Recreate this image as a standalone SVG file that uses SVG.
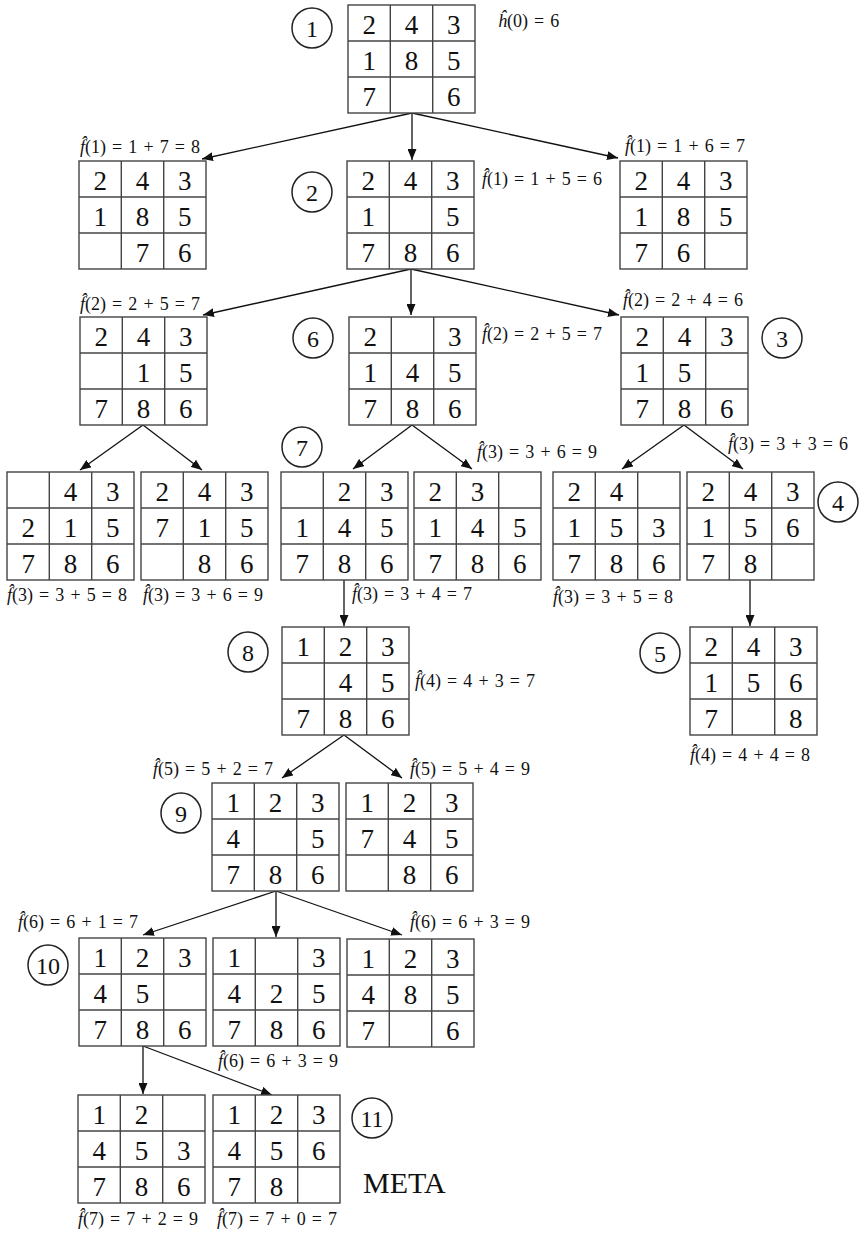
<svg xmlns="http://www.w3.org/2000/svg" xmlns:xlink="http://www.w3.org/1999/xlink" width="860" height="1234" viewBox="0 0 860 1234">
<style>
.d{font-family:"Liberation Serif","Times New Roman",serif;font-size:27px;fill:#111;text-anchor:middle}
.lb{font-family:"Liberation Serif","Times New Roman",serif;font-size:18px;fill:#111;word-spacing:1.6px}
.it{font-style:italic}
.cn{font-family:"Liberation Serif","Times New Roman",serif;font-size:24px;fill:#111;text-anchor:middle}
.circ{fill:none;stroke:#222;stroke-width:1.5}
.cell{fill:#fff;stroke:#444;stroke-width:1.4}
.ln{stroke:#444;stroke-width:1.4}
.ar{stroke:#111;stroke-width:1.3;fill:none;marker-end:url(#ah)}
.meta{font-family:"Liberation Serif","Times New Roman",serif;font-size:30px;fill:#111}
</style>
<defs>
<marker id="ah" markerUnits="userSpaceOnUse" markerWidth="12" markerHeight="9" refX="11" refY="4.5" orient="auto">
<path d="M0,0 L11,4.5 L0,9 z" fill="#111"/>
</marker>
<g id="grid">
<rect class="cell" x="0" y="0" width="127" height="108"/>
<line class="ln" x1="42.3" y1="0" x2="42.3" y2="108"/>
<line class="ln" x1="84.7" y1="0" x2="84.7" y2="108"/>
<line class="ln" x1="0" y1="36" x2="127" y2="36"/>
<line class="ln" x1="0" y1="72" x2="127" y2="72"/>
</g>
</defs>
<rect width="860" height="1234" fill="#fff"/>

<g id="connectors">
<line class="ar" x1="412" y1="113" x2="202" y2="159"/>
<line class="ar" x1="412" y1="113" x2="412" y2="160"/>
<line class="ar" x1="412" y1="113" x2="618" y2="158"/>
<line class="ar" x1="411" y1="269" x2="203" y2="315"/>
<line class="ar" x1="411" y1="269" x2="411" y2="315"/>
<line class="ar" x1="411" y1="269" x2="619" y2="315"/>
<line class="ar" x1="143" y1="425" x2="80" y2="470"/>
<line class="ar" x1="143" y1="425" x2="202" y2="470"/>
<line class="ar" x1="412" y1="425" x2="353" y2="469"/>
<line class="ar" x1="412" y1="425" x2="472" y2="469"/>
<line class="ar" x1="684" y1="425" x2="622" y2="469"/>
<line class="ar" x1="684" y1="425" x2="743" y2="469"/>
<line class="ar" x1="344" y1="580" x2="344" y2="626"/>
<line class="ar" x1="750" y1="580" x2="750" y2="626"/>
<line class="ar" x1="344" y1="735" x2="282" y2="778"/>
<line class="ar" x1="344" y1="735" x2="402" y2="778"/>
<line class="ar" x1="276" y1="891" x2="143" y2="935"/>
<line class="ar" x1="276" y1="891" x2="276" y2="937"/>
<line class="ar" x1="276" y1="891" x2="402" y2="935"/>
<line class="ar" x1="143" y1="1046" x2="143" y2="1094"/>
<line class="ar" x1="143" y1="1046" x2="272" y2="1095"/>
</g>

<g id="n1" transform="translate(348,5)"><use xlink:href="#grid"/>
<text class="d" x="21.2" y="28.5">2</text><text class="d" x="63.5" y="28.5">4</text><text class="d" x="105.8" y="28.5">3</text>
<text class="d" x="21.2" y="64.5">1</text><text class="d" x="63.5" y="64.5">8</text><text class="d" x="105.8" y="64.5">5</text>
<text class="d" x="21.2" y="100.5">7</text><text class="d" x="105.8" y="100.5">6</text></g>

<g id="nL1" transform="translate(79,161)"><use xlink:href="#grid"/>
<text class="d" x="21.2" y="28.5">2</text><text class="d" x="63.5" y="28.5">4</text><text class="d" x="105.8" y="28.5">3</text>
<text class="d" x="21.2" y="64.5">1</text><text class="d" x="63.5" y="64.5">8</text><text class="d" x="105.8" y="64.5">5</text>
<text class="d" x="63.5" y="100.5">7</text><text class="d" x="105.8" y="100.5">6</text></g>

<g id="n2" transform="translate(347,161)"><use xlink:href="#grid"/>
<text class="d" x="21.2" y="28.5">2</text><text class="d" x="63.5" y="28.5">4</text><text class="d" x="105.8" y="28.5">3</text>
<text class="d" x="21.2" y="64.5">1</text><text class="d" x="105.8" y="64.5">5</text>
<text class="d" x="21.2" y="100.5">7</text><text class="d" x="63.5" y="100.5">8</text><text class="d" x="105.8" y="100.5">6</text></g>

<g id="nR1" transform="translate(620,161)"><use xlink:href="#grid"/>
<text class="d" x="21.2" y="28.5">2</text><text class="d" x="63.5" y="28.5">4</text><text class="d" x="105.8" y="28.5">3</text>
<text class="d" x="21.2" y="64.5">1</text><text class="d" x="63.5" y="64.5">8</text><text class="d" x="105.8" y="64.5">5</text>
<text class="d" x="21.2" y="100.5">7</text><text class="d" x="63.5" y="100.5">6</text></g>

<g id="nL2" transform="translate(80,317)"><use xlink:href="#grid"/>
<text class="d" x="21.2" y="28.5">2</text><text class="d" x="63.5" y="28.5">4</text><text class="d" x="105.8" y="28.5">3</text>
<text class="d" x="63.5" y="64.5">1</text><text class="d" x="105.8" y="64.5">5</text>
<text class="d" x="21.2" y="100.5">7</text><text class="d" x="63.5" y="100.5">8</text><text class="d" x="105.8" y="100.5">6</text></g>

<g id="n6" transform="translate(349,317)"><use xlink:href="#grid"/>
<text class="d" x="21.2" y="28.5">2</text><text class="d" x="105.8" y="28.5">3</text>
<text class="d" x="21.2" y="64.5">1</text><text class="d" x="63.5" y="64.5">4</text><text class="d" x="105.8" y="64.5">5</text>
<text class="d" x="21.2" y="100.5">7</text><text class="d" x="63.5" y="100.5">8</text><text class="d" x="105.8" y="100.5">6</text></g>

<g id="n3" transform="translate(621,317)"><use xlink:href="#grid"/>
<text class="d" x="21.2" y="28.5">2</text><text class="d" x="63.5" y="28.5">4</text><text class="d" x="105.8" y="28.5">3</text>
<text class="d" x="21.2" y="64.5">1</text><text class="d" x="63.5" y="64.5">5</text>
<text class="d" x="21.2" y="100.5">7</text><text class="d" x="63.5" y="100.5">8</text><text class="d" x="105.8" y="100.5">6</text></g>

<g id="nA" transform="translate(7,472)"><use xlink:href="#grid"/>
<text class="d" x="63.5" y="28.5">4</text><text class="d" x="105.8" y="28.5">3</text>
<text class="d" x="21.2" y="64.5">2</text><text class="d" x="63.5" y="64.5">1</text><text class="d" x="105.8" y="64.5">5</text>
<text class="d" x="21.2" y="100.5">7</text><text class="d" x="63.5" y="100.5">8</text><text class="d" x="105.8" y="100.5">6</text></g>

<g id="nB" transform="translate(141,472)"><use xlink:href="#grid"/>
<text class="d" x="21.2" y="28.5">2</text><text class="d" x="63.5" y="28.5">4</text><text class="d" x="105.8" y="28.5">3</text>
<text class="d" x="21.2" y="64.5">7</text><text class="d" x="63.5" y="64.5">1</text><text class="d" x="105.8" y="64.5">5</text>
<text class="d" x="63.5" y="100.5">8</text><text class="d" x="105.8" y="100.5">6</text></g>

<g id="n7" transform="translate(281,472)"><use xlink:href="#grid"/>
<text class="d" x="63.5" y="28.5">2</text><text class="d" x="105.8" y="28.5">3</text>
<text class="d" x="21.2" y="64.5">1</text><text class="d" x="63.5" y="64.5">4</text><text class="d" x="105.8" y="64.5">5</text>
<text class="d" x="21.2" y="100.5">7</text><text class="d" x="63.5" y="100.5">8</text><text class="d" x="105.8" y="100.5">6</text></g>

<g id="nC" transform="translate(414,472)"><use xlink:href="#grid"/>
<text class="d" x="21.2" y="28.5">2</text><text class="d" x="63.5" y="28.5">3</text>
<text class="d" x="21.2" y="64.5">1</text><text class="d" x="63.5" y="64.5">4</text><text class="d" x="105.8" y="64.5">5</text>
<text class="d" x="21.2" y="100.5">7</text><text class="d" x="63.5" y="100.5">8</text><text class="d" x="105.8" y="100.5">6</text></g>

<g id="nD" transform="translate(553,472)"><use xlink:href="#grid"/>
<text class="d" x="21.2" y="28.5">2</text><text class="d" x="63.5" y="28.5">4</text>
<text class="d" x="21.2" y="64.5">1</text><text class="d" x="63.5" y="64.5">5</text><text class="d" x="105.8" y="64.5">3</text>
<text class="d" x="21.2" y="100.5">7</text><text class="d" x="63.5" y="100.5">8</text><text class="d" x="105.8" y="100.5">6</text></g>

<g id="n4" transform="translate(687,472)"><use xlink:href="#grid"/>
<text class="d" x="21.2" y="28.5">2</text><text class="d" x="63.5" y="28.5">4</text><text class="d" x="105.8" y="28.5">3</text>
<text class="d" x="21.2" y="64.5">1</text><text class="d" x="63.5" y="64.5">5</text><text class="d" x="105.8" y="64.5">6</text>
<text class="d" x="21.2" y="100.5">7</text><text class="d" x="63.5" y="100.5">8</text></g>

<g id="n8" transform="translate(282,627)"><use xlink:href="#grid"/>
<text class="d" x="21.2" y="28.5">1</text><text class="d" x="63.5" y="28.5">2</text><text class="d" x="105.8" y="28.5">3</text>
<text class="d" x="63.5" y="64.5">4</text><text class="d" x="105.8" y="64.5">5</text>
<text class="d" x="21.2" y="100.5">7</text><text class="d" x="63.5" y="100.5">8</text><text class="d" x="105.8" y="100.5">6</text></g>

<g id="n5" transform="translate(690,627)"><use xlink:href="#grid"/>
<text class="d" x="21.2" y="28.5">2</text><text class="d" x="63.5" y="28.5">4</text><text class="d" x="105.8" y="28.5">3</text>
<text class="d" x="21.2" y="64.5">1</text><text class="d" x="63.5" y="64.5">5</text><text class="d" x="105.8" y="64.5">6</text>
<text class="d" x="21.2" y="100.5">7</text><text class="d" x="105.8" y="100.5">8</text></g>

<g id="n9" transform="translate(212,783)"><use xlink:href="#grid"/>
<text class="d" x="21.2" y="28.5">1</text><text class="d" x="63.5" y="28.5">2</text><text class="d" x="105.8" y="28.5">3</text>
<text class="d" x="21.2" y="64.5">4</text><text class="d" x="105.8" y="64.5">5</text>
<text class="d" x="21.2" y="100.5">7</text><text class="d" x="63.5" y="100.5">8</text><text class="d" x="105.8" y="100.5">6</text></g>

<g id="n9b" transform="translate(346,783)"><use xlink:href="#grid"/>
<text class="d" x="21.2" y="28.5">1</text><text class="d" x="63.5" y="28.5">2</text><text class="d" x="105.8" y="28.5">3</text>
<text class="d" x="21.2" y="64.5">7</text><text class="d" x="63.5" y="64.5">4</text><text class="d" x="105.8" y="64.5">5</text>
<text class="d" x="63.5" y="100.5">8</text><text class="d" x="105.8" y="100.5">6</text></g>

<g id="n10" transform="translate(79,938)"><use xlink:href="#grid"/>
<text class="d" x="21.2" y="28.5">1</text><text class="d" x="63.5" y="28.5">2</text><text class="d" x="105.8" y="28.5">3</text>
<text class="d" x="21.2" y="64.5">4</text><text class="d" x="63.5" y="64.5">5</text>
<text class="d" x="21.2" y="100.5">7</text><text class="d" x="63.5" y="100.5">8</text><text class="d" x="105.8" y="100.5">6</text></g>

<g id="n10b" transform="translate(213,938)"><use xlink:href="#grid"/>
<text class="d" x="21.2" y="28.5">1</text><text class="d" x="105.8" y="28.5">3</text>
<text class="d" x="21.2" y="64.5">4</text><text class="d" x="63.5" y="64.5">2</text><text class="d" x="105.8" y="64.5">5</text>
<text class="d" x="21.2" y="100.5">7</text><text class="d" x="63.5" y="100.5">8</text><text class="d" x="105.8" y="100.5">6</text></g>

<g id="n10c" transform="translate(347,939)"><use xlink:href="#grid"/>
<text class="d" x="21.2" y="28.5">1</text><text class="d" x="63.5" y="28.5">2</text><text class="d" x="105.8" y="28.5">3</text>
<text class="d" x="21.2" y="64.5">4</text><text class="d" x="63.5" y="64.5">8</text><text class="d" x="105.8" y="64.5">5</text>
<text class="d" x="21.2" y="100.5">7</text><text class="d" x="105.8" y="100.5">6</text></g>

<g id="n11a" transform="translate(78,1095)"><use xlink:href="#grid"/>
<text class="d" x="21.2" y="28.5">1</text><text class="d" x="63.5" y="28.5">2</text>
<text class="d" x="21.2" y="64.5">4</text><text class="d" x="63.5" y="64.5">5</text><text class="d" x="105.8" y="64.5">3</text>
<text class="d" x="21.2" y="100.5">7</text><text class="d" x="63.5" y="100.5">8</text><text class="d" x="105.8" y="100.5">6</text></g>

<g id="n11" transform="translate(213,1095)"><use xlink:href="#grid"/>
<text class="d" x="21.2" y="28.5">1</text><text class="d" x="63.5" y="28.5">2</text><text class="d" x="105.8" y="28.5">3</text>
<text class="d" x="21.2" y="64.5">4</text><text class="d" x="63.5" y="64.5">5</text><text class="d" x="105.8" y="64.5">6</text>
<text class="d" x="21.2" y="100.5">7</text><text class="d" x="63.5" y="100.5">8</text></g>

<g id="order-marks">
<circle class="circ" cx="312" cy="28" r="20"/><text class="cn" x="312" y="36.5">1</text>
<circle class="circ" cx="312" cy="192" r="20"/><text class="cn" x="312" y="200.5">2</text>
<circle class="circ" cx="782" cy="338" r="20"/><text class="cn" x="782" y="346.5">3</text>
<circle class="circ" cx="838" cy="502" r="20"/><text class="cn" x="838" y="510.5">4</text>
<circle class="circ" cx="660" cy="653" r="20"/><text class="cn" x="660" y="661.5">5</text>
<circle class="circ" cx="313" cy="338" r="20"/><text class="cn" x="313" y="346.5">6</text>
<circle class="circ" cx="302" cy="447" r="20"/><text class="cn" x="302" y="455.5">7</text>
<circle class="circ" cx="248" cy="652" r="20"/><text class="cn" x="248" y="660.5">8</text>
<circle class="circ" cx="181" cy="813" r="20"/><text class="cn" x="181" y="821.5">9</text>
<circle class="circ" cx="48" cy="965" r="20"/><text class="cn" x="48" y="973.5">10</text>
<circle class="circ" cx="372" cy="1118" r="20"/><text class="cn" x="372" y="1126.5">11</text>
</g>

<g id="labels">
<text class="lb" x="498" y="27"><tspan class="it">h&#x302;</tspan>(0) = 6</text>
<text class="lb" x="80" y="153"><tspan class="it">f&#x302;</tspan>(1) = 1 + 7 = 8</text>
<text class="lb" x="482" y="185"><tspan class="it">f&#x302;</tspan>(1) = 1 + 5 = 6</text>
<text class="lb" x="625" y="152"><tspan class="it">f&#x302;</tspan>(1) = 1 + 6 = 7</text>
<text class="lb" x="80" y="310"><tspan class="it">f&#x302;</tspan>(2) = 2 + 5 = 7</text>
<text class="lb" x="482" y="340"><tspan class="it">f&#x302;</tspan>(2) = 2 + 5 = 7</text>
<text class="lb" x="623" y="306"><tspan class="it">f&#x302;</tspan>(2) = 2 + 4 = 6</text>
<text class="lb" x="7" y="601"><tspan class="it">f&#x302;</tspan>(3) = 3 + 5 = 8</text>
<text class="lb" x="143" y="601"><tspan class="it">f&#x302;</tspan>(3) = 3 + 6 = 9</text>
<text class="lb" x="352" y="600"><tspan class="it">f&#x302;</tspan>(3) = 3 + 4 = 7</text>
<text class="lb" x="477" y="458"><tspan class="it">f&#x302;</tspan>(3) = 3 + 6 = 9</text>
<text class="lb" x="553" y="603"><tspan class="it">f&#x302;</tspan>(3) = 3 + 5 = 8</text>
<text class="lb" x="728" y="450"><tspan class="it">f&#x302;</tspan>(3) = 3 + 3 = 6</text>
<text class="lb" x="415" y="687"><tspan class="it">f&#x302;</tspan>(4) = 4 + 3 = 7</text>
<text class="lb" x="690" y="761"><tspan class="it">f&#x302;</tspan>(4) = 4 + 4 = 8</text>
<text class="lb" x="153" y="775"><tspan class="it">f&#x302;</tspan>(5) = 5 + 2 = 7</text>
<text class="lb" x="410" y="775"><tspan class="it">f&#x302;</tspan>(5) = 5 + 4 = 9</text>
<text class="lb" x="18" y="928"><tspan class="it">f&#x302;</tspan>(6) = 6 + 1 = 7</text>
<text class="lb" x="410" y="928"><tspan class="it">f&#x302;</tspan>(6) = 6 + 3 = 9</text>
<text class="lb" x="218" y="1067"><tspan class="it">f&#x302;</tspan>(6) = 6 + 3 = 9</text>
<text class="lb" x="78" y="1225"><tspan class="it">f&#x302;</tspan>(7) = 7 + 2 = 9</text>
<text class="lb" x="217" y="1225"><tspan class="it">f&#x302;</tspan>(7) = 7 + 0 = 7</text>
<text class="meta" x="363" y="1193">META</text>
</g>
</svg>
